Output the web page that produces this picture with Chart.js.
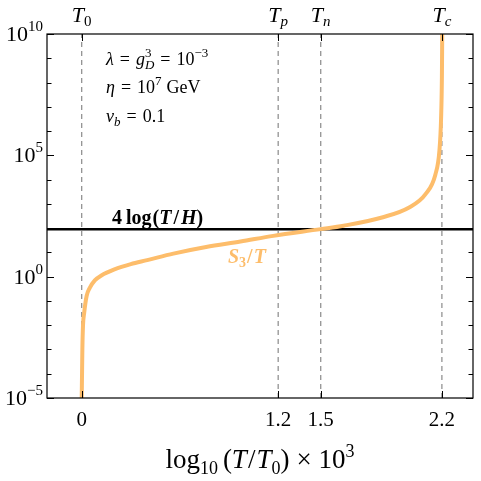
<!DOCTYPE html>
<html>
<head>
<meta charset="utf-8">
<script src="https://cdn.jsdelivr.net/npm/chart.js@4.4.1/dist/chart.umd.min.js"></script>
<style>
  html, body { margin: 0; padding: 0; background: #fff; }
  canvas { display: block; }
</style>
</head>
<body>
<canvas id="chart" width="481" height="481"></canvas>
<script>
// x positions of the marked temperatures and their labels
const xTicks = [0, 1.2, 1.46, 2.2];
const xTickLabels = ["0", "1.2", "1.5", "2.2"];
const topSubs = ["0", "p", "n", "c"];
const yTickExps = [-5, 0, 5, 10];

// S3/T curve
const curveX = [0, 0.002, 0.004, 0.008, 0.015, 0.03, 0.05, 0.08, 0.12, 0.2, 0.3, 0.4, 0.56, 0.76, 0.97, 1.17, 1.46, 1.6, 1.84, 2.0, 2.1, 2.16, 2.185, 2.195, 2.2, 2.202];
const curveY = [1e-5, 1e-4, 1e-3, 1e-2, 3.2e-2, 0.16, 0.35, 0.7, 1.12, 2.0, 3.3, 4.8, 8.9, 16.6, 28, 48, 91, 126, 282, 708, 2.5e3, 1.6e4, 1.6e5, 3.2e6, 1.6e8, 1e10];

// 4 log(T/H) level
const lineLevel = 89;

const xMin = -0.212, xMax = 2.39;
const yMin = 1e-5, yMax = 1e10;

const SERIF = '"Liberation Serif", "DejaVu Serif", serif';
const ORANGE = "#fdbd6b";

function font(style, size){
  return style + " " + size + "px " + SERIF;
}

// draws a list of text runs; l/r add gaps, stack:true reuses the x of the previous run
function layoutRich(ctx, runs, draw, sx, y){
  let cx = 0, lastX = 0, lastW = 0;
  runs.forEach(r => {
    ctx.font = r.f;
    let rw = ctx.measureText(r.t).width;
    if(r.stack){
      if(draw){ ctx.fillStyle = r.c || "#000"; ctx.fillText(r.t, sx + lastX, y + (r.dy || 0)); }
      cx = lastX + Math.max(lastW, rw) + (r.r || 0);
    } else {
      cx += (r.l || 0);
      if(draw){ ctx.fillStyle = r.c || "#000"; ctx.fillText(r.t, sx + cx, y + (r.dy || 0)); }
      lastX = cx; lastW = rw; cx += rw + (r.r || 0);
    }
  });
  return cx;
}

function drawRich(ctx, runs, x, y, align){
  let w = layoutRich(ctx, runs, false, 0, y);
  let sx = x;
  if(align === "center") sx = x - w / 2;
  if(align === "right") sx = x - w;
  layoutRich(ctx, runs, true, sx, y);
}

const decorPlugin = {
  id: "decor",
  afterDraw(chart){
    const ctx = chart.ctx;
    const a = chart.chartArea;
    const xs = chart.scales.x, ys = chart.scales.y;
    ctx.save();
    ctx.textAlign = "left";
    ctx.textBaseline = "alphabetic";

    // frame
    ctx.strokeStyle = "#000";
    ctx.lineWidth = 1.2;
    ctx.strokeRect(a.left, a.top, a.right - a.left, a.bottom - a.top);

    // inward ticks on x (bottom and top)
    ctx.lineWidth = 1;
    xs.ticks.forEach(t => {
      let px = Math.round(xs.getPixelForValue(t.value)) + 0.5;
      ctx.beginPath();
      ctx.moveTo(px, a.bottom); ctx.lineTo(px, a.bottom - 7);
      ctx.moveTo(px, a.top); ctx.lineTo(px, a.top + 7);
      ctx.stroke();
    });
    // inward ticks on y (left and right), one per decade
    for(let e = -5; e <= 10; e++){
      let py = Math.round(ys.getPixelForValue(Math.pow(10, e))) + 0.5;
      let len = yTickExps.includes(e) ? 7 : 4.5;
      ctx.beginPath();
      ctx.moveTo(a.left, py); ctx.lineTo(a.left + len, py);
      ctx.moveTo(a.right, py); ctx.lineTo(a.right - len, py);
      ctx.stroke();
    }

    // bottom and top tick labels
    xs.ticks.forEach((t, i) => {
      let px = xs.getPixelForValue(t.value);
      drawRich(ctx, [{t: xTickLabels[i], f: font("", 21)}], px, a.bottom + 28, "center");
      drawRich(ctx, [
        {t: "T", f: font("italic", 22)},
        {t: topSubs[i], f: font(topSubs[i] === "0" ? "" : "italic", 15), dy: 4}
      ], px, a.top - 12, "center");
    });

    // y tick labels
    yTickExps.forEach(e => {
      let py = ys.getPixelForValue(Math.pow(10, e));
      let ex = e < 0 ? "\u2212" + Math.abs(e) : String(e);
      drawRich(ctx, [
        {t: "10", f: font("", 22)},
        {t: ex, f: font("", 15), dy: -10}
      ], a.left - 4, py + 7, "right");
    });

    // parameter text
    const f18 = font("", 18), i18 = font("italic", 18), s13 = font("", 13), si13 = font("italic", 13);
    drawRich(ctx, [
      {t: "\u03bb", f: i18}, {t: "=", f: f18, l: 6, r: 6}, {t: "g", f: i18},
      {t: "3", f: s13, dy: -8}, {t: "D", f: si13, dy: 4, stack: true},
      {t: "=", f: f18, l: 6, r: 6}, {t: "10", f: f18}, {t: "\u22123", f: s13, dy: -8}
    ], 106, 65, "left");
    drawRich(ctx, [
      {t: "\u03b7", f: i18}, {t: "=", f: f18, l: 6, r: 6}, {t: "10", f: f18},
      {t: "7", f: s13, dy: -8}, {t: "GeV", f: f18, l: 5}
    ], 106, 93, "left");
    drawRich(ctx, [
      {t: "v", f: i18}, {t: "b", f: si13, dy: 4}, {t: "=", f: f18, l: 6, r: 6}, {t: "0.1", f: f18}
    ], 106, 122, "left");

    // line labels
    const b20 = font("bold", 20), bi20 = font("bold italic", 20);
    drawRich(ctx, [
      {t: "4", f: b20, r: 4}, {t: "log", f: b20, r: 1}, {t: "(", f: b20}, {t: "T", f: bi20, r: 2},
      {t: "/", f: b20, r: 2}, {t: "H", f: bi20}, {t: ")", f: b20}
    ], 112, 224, "left");
    drawRich(ctx, [
      {t: "S", f: font("bold italic", 20), c: ORANGE},
      {t: "3", f: font("bold", 14), dy: 4, c: ORANGE, r: 1},
      {t: "/", f: font("bold", 20), c: ORANGE, r: 1},
      {t: "T", f: font("bold italic", 20), c: ORANGE}
    ], 228, 263, "left");

    // x axis title
    const f27 = font("", 27), i27 = font("italic", 27), s18 = font("", 18);
    drawRich(ctx, [
      {t: "log", f: f27}, {t: "10", f: s18, dy: 6, r: 5},
      {t: "(", f: f27}, {t: "T", f: i27, r: 1},
      {t: "/", f: f27, r: 1}, {t: "T", f: i27},
      {t: "0", f: s18, dy: 6}, {t: ")", f: f27},
      {t: "\u00d7", f: f27, l: 7, r: 7}, {t: "10", f: f27},
      {t: "3", f: s18, dy: -11}
    ], (a.left + a.right) / 2, 468, "center");

    ctx.restore();
  }
};

const bgPlugin = {
  id: "bg",
  beforeDraw(chart){
    const ctx = chart.ctx;
    ctx.save();
    ctx.fillStyle = "#fff";
    ctx.fillRect(0, 0, chart.width, chart.height);
    ctx.restore();
  }
};

const curvePts = curveX.map((x, i) => ({x: x, y: curveY[i]}));
const datasets = [
  {
    data: curvePts,
    borderColor: ORANGE,
    borderWidth: 4,
    pointRadius: 0,
    cubicInterpolationMode: "monotone",
    borderCapStyle: "round"
  },
  {
    data: [{x: xMin, y: lineLevel}, {x: xMax, y: lineLevel}],
    borderColor: "#000",
    borderWidth: 2.5,
    pointRadius: 0
  }
];
xTicks.forEach(x => {
  datasets.push({
    data: [{x: x, y: yMin}, {x: x, y: yMax}],
    borderColor: "#8a8a8a",
    borderWidth: 1.2,
    borderDash: [5, 4],
    pointRadius: 0
  });
});

new Chart(document.getElementById("chart"), {
  type: "line",
  data: { datasets: datasets },
  options: {
    responsive: false,
    animation: false,
    events: [],
    layout: { padding: { left: 47, top: 34, right: 8, bottom: 83 } },
    plugins: { legend: { display: false }, tooltip: { enabled: false } },
    scales: {
      x: {
        type: "linear",
        min: xMin, max: xMax,
        afterBuildTicks: s => { s.ticks = xTicks.map(v => ({value: v})); },
        ticks: { display: false },
        grid: { display: false, drawTicks: false },
        border: { display: false }
      },
      y: {
        type: "logarithmic",
        min: yMin, max: yMax,
        ticks: { display: false },
        grid: { display: false, drawTicks: false },
        border: { display: false }
      }
    }
  },
  plugins: [bgPlugin, decorPlugin]
});
</script>
</body>
</html>
